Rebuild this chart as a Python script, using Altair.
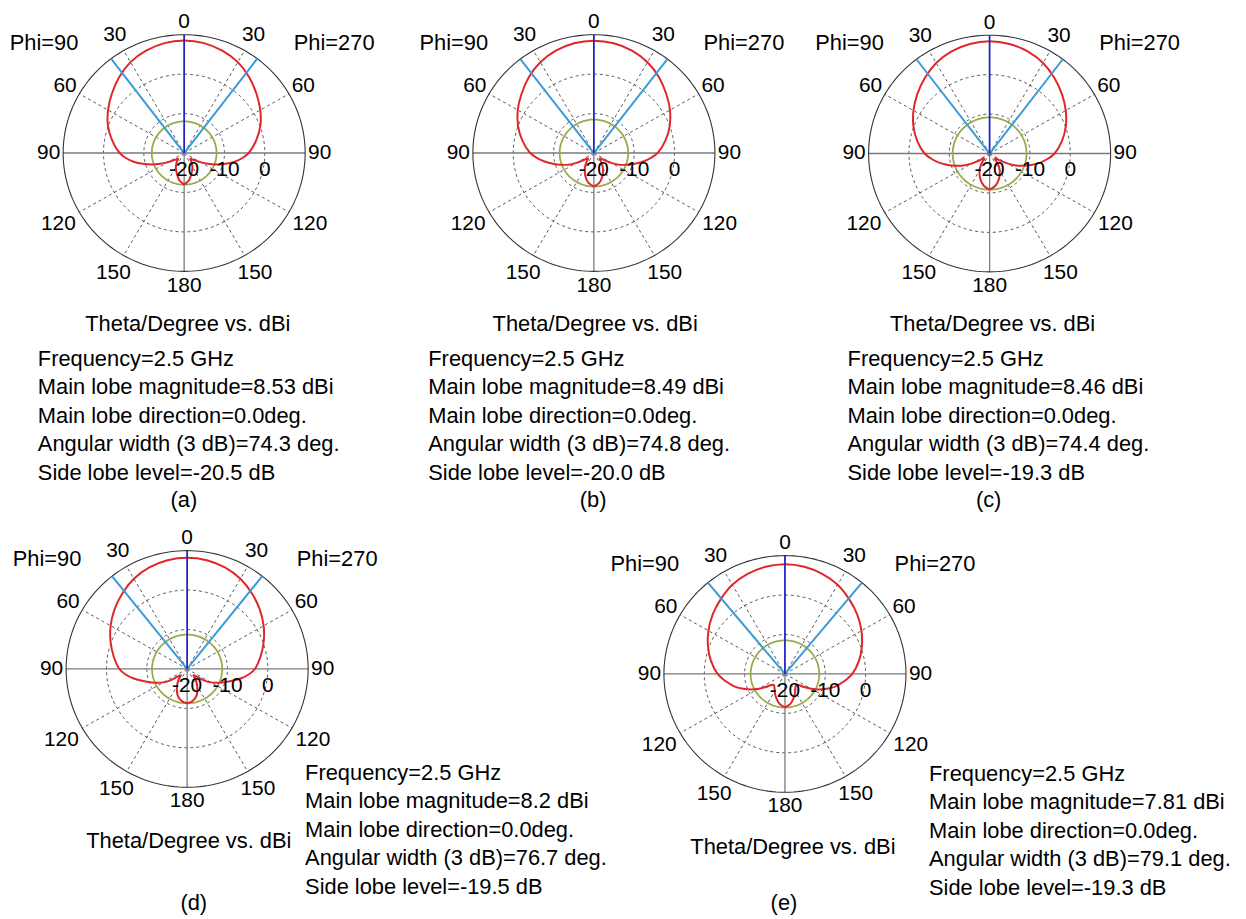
import numpy as np
import pandas as pd
import altair as alt

# ---------------- data ----------------
THETA_HALF = [0, 10, 20, 30, 40, 50, 60, 70, 80, 90, 95, 100, 105, 110, 115, 120,
              125, 130, 135, 140, 145, 150, 160, 170, 180]
GAIN_A = [8.53, 8.3, 7.6, 6.6, 5.1, 3.4, 1.8, 0.1, -1.9, -4.0, -5.5, -7.3, -9.4, -11.5,
          -13.5, -15.4, -16.8, -17.6, -17.9, -17.2, -16.6, -15.9, -14.6, -13.0, -12.0]
GAIN_B = [8.49, 8.25, 7.6, 6.55, 5.1, 3.4, 1.8, 0.0, -2.0, -4.2, -5.8, -7.6, -9.5, -11.3,
          -13.0, -15.0, -16.8, -17.8, -18.0, -17.3, -16.4, -15.5, -13.8, -12.3, -11.5]
GAIN_C = [8.46, 8.2, 7.55, 6.5, 5.0, 3.4, 1.8, 0.1, -1.8, -3.9, -5.4, -7.1, -9.0, -10.9,
          -12.8, -15.0, -17.0, -18.0, -18.2, -17.2, -16.0, -15.0, -13.2, -11.7, -10.84]
GAIN_D = [8.2, 8.0, 7.4, 6.4, 5.0, 3.5, 1.9, 0.2, -1.5, -3.2, -4.6, -6.4, -8.4, -10.2,
          -11.7, -13.2, -15.1, -17.2, -17.8, -17.0, -16.0, -15.0, -13.0, -11.8, -11.3]
GAIN_E = [7.81, 7.6, 7.0, 6.1, 4.75, 3.4, 1.9, 0.3, -1.4, -3.3, -4.6, -6.0, -7.3, -9.0,
          -10.7, -12.5, -14.2, -15.6, -16.1, -15.9, -15.5, -14.9, -13.6, -12.3, -11.49]
GAINS = [GAIN_A, GAIN_B, GAIN_C, GAIN_D, GAIN_E]

PANEL_LETTERS = ["(a)", "(b)", "(c)", "(d)", "(e)"]
FREQUENCY = "2.5"
MAIN_LOBE = [8.53, 8.49, 8.46, 8.2, 7.81]
MAIN_DIRECTION = [0.0, 0.0, 0.0, 0.0, 0.0]
BEAMWIDTH = [74.3, 74.8, 74.4, 76.7, 79.1]
SIDE_LOBE = [-20.5, -20.0, -19.3, -19.5, -19.3]

R_MIN = -20          # dB at the centre
RING_LEVELS = [-10, 0]   # dashed rings (dB)
OUTER_LEVEL = 10         # solid outer circle (dB)
RADIAL_TICKS = [-20, -10, 0]
ANGLE_TICKS = [-150, -120, -90, -60, -30, 0, 30, 60, 90, 120, 150, 180]
DASHED_SPOKES = [-150, -120, -60, -30, 30, 60, 120, 150]
SOLID_SPOKES = [-90, 90, 180]
PLANE_LABELS = ["Phi=90", "Phi=270"]
AXIS_TITLE = "Theta/Degree vs. dBi"

# ---------------- layout (pixels) ----------------
KX, KY = 4.06, 3.97   # px per dB
LABEL_R = {0: 33.1, 30: 34.4, 60: 34.1, 90: 33.6, 120: 36.0, 150: 35.1, 180: 33.6}
LAYOUT = [
    dict(w=400, h=510, cx=177.3, cy=143.0, title=(181, 315), info=(30, 350), step=28.7, letter=(177, 492)),
    dict(w=410, h=510, cx=189.7, cy=143.0, title=(191, 315), info=(23, 350), step=28.7, letter=(189, 492)),
    dict(w=428, h=510, cx=178.0, cy=143.5, title=(181, 315), info=(35, 350), step=28.7, letter=(177, 492)),
    dict(w=600, h=401, cx=180.3, cy=152.3, title=(182, 325), info=(299, 257), step=28.6, letter=(187, 388)),
    dict(w=638, h=401, cx=182.0, cy=157.3, title=(190, 332), info=(327, 258), step=28.6, letter=(181, 388)),
]
FONT = "Liberation Sans"
RED, BLUE, LIGHT, GREEN = "#e0262c", "#2424c4", "#3b9ad8", "#98aa4a"
GRAY, DARK = "#7a7a7a", "#444444"

XEXPR = "datum.r * sin(datum.t * PI / 180)"
YEXPR = "datum.r * cos(datum.t * PI / 180)"
CIRCLE_T = np.arange(0, 362, 2)


def circle_df(levels):
    rows = []
    for lv in levels:
        for k, t in enumerate(CIRCLE_T):
            rows.append({"lv": lv, "t": float(t), "r": lv - R_MIN, "o": k})
    return pd.DataFrame(rows)


def panel(i):
    L = LAYOUT[i]
    dx = [-L["cx"] / KX, (L["w"] - L["cx"]) / KX]
    dy = [-(L["h"] - L["cy"]) / KY, L["cy"] / KY]
    sx = alt.Scale(domain=dx, nice=False, zero=False)
    sy = alt.Scale(domain=dy, nice=False, zero=False)
    X = alt.X("x:Q", scale=sx, axis=None)
    Y = alt.Y("y:Q", scale=sy, axis=None)
    Rmax = OUTER_LEVEL - R_MIN

    layers = []
    layers.append(
        alt.Chart(circle_df(RING_LEVELS)).mark_line(color=DARK, strokeWidth=0.9, strokeDash=[3, 3])
        .transform_calculate(x=XEXPR, y=YEXPR)
        .encode(x=X, y=Y, detail="lv:N", order="o:Q"))
    spokes = pd.DataFrame({"t": DASHED_SPOKES})
    layers.append(
        alt.Chart(spokes).mark_rule(color=DARK, strokeWidth=0.9, strokeDash=[3, 3])
        .transform_calculate(r=str(Rmax), x="0", y="0", x1=XEXPR, y1=YEXPR)
        .encode(x=X, y=Y, x2="x1:Q", y2="y1:Q"))
    solid = pd.DataFrame({"t": SOLID_SPOKES})
    layers.append(
        alt.Chart(solid).mark_rule(color=GRAY, strokeWidth=1.3)
        .transform_calculate(r=str(Rmax), x="0", y="0", x1=XEXPR, y1=YEXPR)
        .encode(x=X, y=Y, x2="x1:Q", y2="y1:Q"))
    layers.append(
        alt.Chart(circle_df([OUTER_LEVEL])).mark_line(color="#333333", strokeWidth=1.1)
        .transform_calculate(x=XEXPR, y=YEXPR)
        .encode(x=X, y=Y, order="o:Q"))
    sll = MAIN_LOBE[i] + SIDE_LOBE[i]
    layers.append(
        alt.Chart(circle_df([sll])).mark_line(color=GREEN, strokeWidth=1.8)
        .transform_calculate(x=XEXPR, y=YEXPR)
        .encode(x=X, y=Y, order="o:Q"))
    g = GAINS[i]
    th = [-t for t in reversed(THETA_HALF)] + THETA_HALF[1:]
    gg = list(reversed(g)) + g[1:]
    pat = pd.DataFrame({"t": th, "g": gg, "o": range(len(th))})
    layers.append(
        alt.Chart(pat).mark_line(color=RED, strokeWidth=2.0, interpolate="catmull-rom")
        .transform_calculate(r=f"datum.g - ({R_MIN})", x=XEXPR, y=YEXPR)
        .encode(x=X, y=Y, order="o:Q"))
    half = BEAMWIDTH[i] / 2
    bw = pd.DataFrame({"t": [-half, half]})
    layers.append(
        alt.Chart(bw).mark_rule(color=LIGHT, strokeWidth=2.0)
        .transform_calculate(r=str(Rmax), x="0", y="0", x1=XEXPR, y1=YEXPR)
        .encode(x=X, y=Y, x2="x1:Q", y2="y1:Q"))
    md = pd.DataFrame({"t": [MAIN_DIRECTION[i]]})
    layers.append(
        alt.Chart(md).mark_rule(color=BLUE, strokeWidth=1.8)
        .transform_calculate(r=str(Rmax), x="0", y="0", x1=XEXPR, y1=YEXPR)
        .encode(x=X, y=Y, x2="x1:Q", y2="y1:Q"))
    al = pd.DataFrame({"t": ANGLE_TICKS,
                       "lab": [str(abs(t)) for t in ANGLE_TICKS],
                       "r": [LABEL_R[abs(t)] for t in ANGLE_TICKS]})
    layers.append(
        alt.Chart(al).mark_text(font=FONT, fontSize=21, color="black", align="center", baseline="middle")
        .transform_calculate(x=XEXPR, y=YEXPR)
        .encode(x=X, y=Y, text="lab:N"))
    rl = pd.DataFrame({"v": RADIAL_TICKS, "lab": [str(v) for v in RADIAL_TICKS]})
    layers.append(
        alt.Chart(rl).mark_text(font=FONT, fontSize=21, color="black", align="center", baseline="middle")
        .transform_calculate(x=f"datum.v - ({R_MIN})", y=str(-17 / KY))
        .encode(x=X, y=Y, text="lab:N"))
    pl = pd.DataFrame({"lab": PLANE_LABELS, "side": [-1, 1]})
    layers.append(
        alt.Chart(pl).mark_text(font=FONT, fontSize=22, color="black", align="center", baseline="middle")
        .transform_calculate(x=f"datum.side < 0 ? {-141 / KX} : {151 / KX}", y=str(111 / KY))
        .encode(x=X, y=Y, text="lab:N"))
    dummy = pd.DataFrame({"a": [0]})
    tx, ty = L["title"]
    layers.append(alt.Chart(dummy).mark_text(font=FONT, fontSize=22, color="black", align="center",
                                             baseline="middle", text=AXIS_TITLE)
                  .encode(x=alt.value(tx), y=alt.value(ty)))
    info = [f"Frequency={FREQUENCY} GHz",
            f"Main lobe magnitude={MAIN_LOBE[i]} dBi",
            f"Main lobe direction={MAIN_DIRECTION[i]:.1f}deg.",
            f"Angular width (3 dB)={BEAMWIDTH[i]:.1f} deg.",
            f"Side lobe level={SIDE_LOBE[i]:.1f} dB"]
    ix, iy = L["info"]
    for k, line in enumerate(info):
        layers.append(alt.Chart(dummy).mark_text(font=FONT, fontSize=22, color="black", align="left",
                                                 baseline="middle", text=line)
                      .encode(x=alt.value(ix), y=alt.value(iy + k * L["step"])))
    lx, ly = L["letter"]
    layers.append(alt.Chart(dummy).mark_text(font=FONT, fontSize=22, color="black", align="center",
                                             baseline="middle", text=PANEL_LETTERS[i])
                  .encode(x=alt.value(lx), y=alt.value(ly)))

    return alt.layer(*layers).properties(width=L["w"], height=L["h"])


row1 = alt.hconcat(panel(0), panel(1), panel(2), spacing=0, bounds="flush")
row2 = alt.hconcat(panel(3), panel(4), spacing=0, bounds="flush")
chart = (alt.vconcat(row1, row2, spacing=0)
         .properties(padding=0, background="white")
         .configure_view(stroke=None))

chart.save("out.html", embed_options={"renderer": "svg", "actions": False})
